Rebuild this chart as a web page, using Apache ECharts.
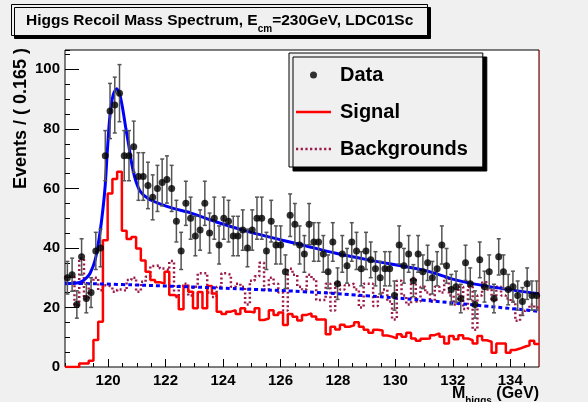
<!DOCTYPE html>
<html>
<head>
<meta charset="utf-8">
<title>Higgs Recoil Mass Spectrum</title>
<script src="https://cdn.jsdelivr.net/npm/echarts@6.0.0/dist/echarts.min.js"></script>
<style>
    html, body { margin: 0; padding: 0; background: #f0f0f0; }
    #main { width: 588px; height: 402px; }
</style>
</head>
<body>
<div id="main"></div>
<script type="text/javascript">
    // binning: 100 bins of 0.165 GeV from 118.5 to 135
    var xMin = 118.5;
    var xMax = 135;
    var binWidth = 0.165;

    // data counts per bin
    var dataCounts = [
        30, 31, 21, 37, 23, 25, 39, 40, 71, 86, 88, 92, 71, 71, 74, 64, 64, 61, 57, 60, 62, 63, 60, 49, 39,
        55, 50, 44, 46, 55, 45, 50, 41, 50, 49, 44, 44, 46, 40, 46, 50, 50, 39, 49, 41, 41, 32, 51, 48, 41, 38,
        48, 42, 42, 38, 32, 42, 28, 38, 34, 42, 39, 33, 39, 36, 33, 30, 33, 33, 24, 41, 34, 38, 29, 38, 32,
        35, 30, 33, 41, 34, 26, 27, 23, 35, 28, 21, 36, 27, 32, 23, 37, 32, 26, 27, 24, 22, 28, 24, 24
    ];

    // signal histogram
    var signalHist = [
        0, 0, 0, 1.2, 1.2, 2.1, 9.1, 15.2, 42.6, 58.3, 63.2, 65.6, 45.8, 43, 43.7, 39.8, 35.8, 32, 29.2, 28.5, 28, 32, 24.2, 23.7, 19.4,
        27.2, 25.3, 19.7, 25.2, 19.7, 27.2, 24.7, 18.6, 17.8, 18.6, 19.1, 17.8, 19.7, 18.6, 18.3, 19.7, 15.8, 16.3, 19.1, 17.5, 18.3, 14.1, 17.8, 16.9, 15.6, 17.5,
        18, 17, 16, 16, 11, 13.5, 12.6, 14.2, 13.5, 14, 15, 13.5, 12.5, 11.5, 12.5, 12.3, 10.6, 10.2, 9.6, 11, 10.2, 11.5, 9.6, 8.8, 9.5,
        9.6, 10.7, 11.3, 10.2, 7.9, 10.4, 9.3, 10.7, 9.6, 9, 7.9, 10.4, 9, 8.5, 4.8, 7.9, 7.9, 4.8, 5.7, 6.2, 6.8, 7.3, 8.8, 7.7
    ];

    // background histogram
    var bkgHist = [
        30.3, 30.3, 20.8, 36.5, 22.9, 28.6, 30, 25.8, 27.5, 26.9, 25.3, 26, 25.6, 29.2, 30, 25.3, 28.6, 30.3, 33.9, 34.2, 33.1, 32.5, 35.6, 23.5, 27.3,
        28, 24, 27, 31.5, 31.5, 25, 23.5, 27, 31.5, 31, 27, 28, 27, 21, 29, 30.5, 35, 26, 30, 28, 25, 19, 33, 31, 27, 26,
        31, 29.5, 22.5, 22.5, 28, 19, 28.5, 26, 27.5, 28, 26, 20, 28, 28, 20.5, 24, 26, 22, 16, 29, 24, 21, 30, 22, 27,
        25, 22, 27, 25, 30, 24, 21, 27, 19.5, 27, 12.5, 24, 28.5, 26, 22, 27, 24, 23, 22, 15.5, 18, 19, 21, 20
    ];

    // total fit curve
    var fitX = [118.5, 119.0, 119.2, 119.37, 119.55, 119.7, 119.82, 119.9, 119.97, 120.07, 120.18, 120.3, 120.42, 120.53,
                120.62, 120.71, 120.83, 120.95, 121.12, 121.4, 121.8, 122.3, 122.86, 123.74, 124.91, 126.07, 126.8,
                127.93, 129.1, 131.0, 132.12, 133.28, 135.0];
    var fitY = [28.0, 28.4, 29.5, 31.4, 36, 44, 53, 61, 72, 85, 91.5, 93.5, 91, 85.5,
                80, 75, 68, 63, 59, 56.5, 54.8, 53.2, 51.8, 48.8, 45.4, 42.6, 40.9,
                38.2, 35.9, 32.5, 29.2, 27, 24.6];

    // background fit curve
    var bkgFitX = [118.5, 120.5, 122.6, 124.7, 126.8, 129.0, 131.0, 133.0, 135.0];
    var bkgFitY = [28.2, 27.7, 27.0, 26.2, 25.3, 23.9, 22.4, 20.6, 18.7];

    var xTicks = [120, 122, 124, 126, 128, 130, 132, 134];

    var FONT = '"Liberation Sans", Arial, Helvetica, sans-serif';

    // legend icons: plain line and dotted line
    var ICON_LINE = 'path://M0,0H35V2.6H0Z';
    var ICON_DOTS = 'path://M0,0h2.2v2.6h-2.2z M4.6,0h2.2v2.6h-2.2z M9.2,0h2.2v2.6h-2.2z M13.8,0h2.2v2.6h-2.2z ' +
                    'M18.4,0h2.2v2.6h-2.2z M23,0h2.2v2.6h-2.2z M27.6,0h2.2v2.6h-2.2z M32.2,0h2.2v2.6h-2.2z';

    // build series data
    var points = [], errors = [];
    dataCounts.forEach(function (n, i) {
        var x = xMin + (i + 0.5) * binWidth;
        points.push([x, n]);
        errors.push([x, n, Math.sqrt(n)]);   // poisson errors
    });
    function histLine(vals) {
        var out = vals.map(function (v, i) { return [xMin + i * binWidth, v]; });
        out.push([xMax, vals[vals.length - 1]]);
        return out;
    }
    function zip(xs, ys) { return xs.map(function (x, i) { return [x, ys[i]]; }); }

    var myChart = echarts.init(document.getElementById('main'), null, {renderer: 'canvas'});

    var option = {
        animation: false,
        backgroundColor: '#f0f0f0',
        title: {
            text: '{t|Higgs Recoil Mass Spectrum, E}{s|cm}{t|=230GeV, LDC01Sc}',
            left: 11,
            top: 9,
            padding: [3, 14, 1, 15],
            backgroundColor: '#f0f0f0',
            borderColor: '#000',
            borderWidth: 1,
            shadowColor: '#000',
            shadowOffsetX: 3,
            shadowOffsetY: 3,
            shadowBlur: 0,
            textStyle: {
                rich: {
                    t: {fontSize: 15.5, fontWeight: 'bold', fontFamily: FONT, color: '#000', lineHeight: 18},
                    s: {fontSize: 10, fontWeight: 'bold', fontFamily: FONT, color: '#000', lineHeight: 10, padding: [17, 0, 0, 0]}
                }
            }
        },
        legend: {
            data: [
                {name: 'Data', icon: 'circle'},
                {name: 'Signal', icon: ICON_LINE},
                {name: 'Backgrounds', icon: ICON_DOTS}
            ],
            orient: 'vertical',
            left: 289,
            top: 53,
            itemWidth: 35,
            itemHeight: 7,
            itemGap: 17,
            padding: [12, 15, 8, 7],
            selectedMode: false,
            backgroundColor: '#f0f0f0',
            borderColor: '#000',
            borderWidth: 1,
            shadowColor: '#000',
            shadowOffsetX: 4,
            shadowOffsetY: 4,
            shadowBlur: 0,
            textStyle: {fontSize: 20, fontWeight: 'bold', fontFamily: FONT, color: '#000', padding: [0, 0, 0, 4]}
        },
        grid: {
            left: 65, right: 49, top: 50, bottom: 35,
            show: true,
            backgroundColor: '#fff',
            borderColor: '#000',
            borderWidth: 1
        },
        xAxis: [{
            type: 'value', min: xMin, max: xMax, position: 'bottom',
            axisLine: {show: false}, splitLine: {show: false},
            axisTick: {inside: true, length: 8, customValues: xTicks, lineStyle: {color: '#000'}},
            axisLabel: {customValues: xTicks, margin: 6, color: '#000', fontSize: 15, fontWeight: 'bold', fontFamily: FONT}
        }, {
            type: 'value', min: xMin, max: xMax, interval: 0.5, position: 'bottom',
            axisLine: {show: false}, splitLine: {show: false},
            axisTick: {inside: true, length: 4, lineStyle: {color: '#000'}},
            axisLabel: {show: false}
        }],
        yAxis: [{
            type: 'value', min: 0, max: 106.5, interval: 20, position: 'left',
            axisLine: {show: false}, splitLine: {show: false},
            axisTick: {inside: true, length: 14, lineStyle: {color: '#000'}},
            axisLabel: {showMaxLabel: false, margin: 5, color: '#000', fontSize: 15, fontWeight: 'bold', fontFamily: FONT}
        }, {
            type: 'value', min: 0, max: 106.5, interval: 5, position: 'left',
            axisLine: {show: false}, splitLine: {show: false},
            axisTick: {inside: true, length: 5, lineStyle: {color: '#000'}},
            axisLabel: {show: false}
        }],
        graphic: [{
            type: 'text', x: 21, y: 48, rotation: Math.PI / 2,
            style: {text: 'Events / ( 0.165 )', font: 'bold 18px ' + FONT, fill: '#000', align: 'right', verticalAlign: 'middle'}
        }, {
            type: 'text', x: 539, y: 403,
            style: {
                text: '{m|M}{s|higgs}{m| (GeV)}', align: 'right', verticalAlign: 'bottom',
                rich: {
                    m: {fontSize: 16, fontWeight: 'bold', fontFamily: FONT, fill: '#000', lineHeight: 18},
                    s: {fontSize: 10, fontWeight: 'bold', fontFamily: FONT, fill: '#000', lineHeight: 10, padding: [14, 0, 0, 0]}
                }
            }
        }],
        series: [{
            name: 'Backgrounds',
            type: 'line',
            step: 'end',
            symbol: 'none',
            z: 2,
            color: '#9c1a4a',
            lineStyle: {color: '#9c1a4a', width: 2.5, type: [2, 2.5]},
            data: histLine(bkgHist)
        }, {
            name: 'Signal',
            type: 'line',
            step: 'end',
            symbol: 'none',
            z: 2,
            color: '#ff0000',
            lineStyle: {color: '#ff0000', width: 2.5},
            data: histLine(signalHist),
            markLine: {
                silent: true, symbol: 'none', label: {show: false},
                lineStyle: {color: '#d04040', width: 1, type: 'solid'},
                data: [{xAxis: xMax}]
            }
        }, {
            name: 'BkgFit',
            type: 'line',
            symbol: 'none',
            smooth: true,
            z: 3,
            lineStyle: {color: '#0000ff', width: 3, type: [4, 3]},
            data: zip(bkgFitX, bkgFitY)
        }, {
            name: 'Fit',
            type: 'line',
            symbol: 'none',
            smooth: 0.3,
            z: 3,
            lineStyle: {color: '#0000ff', width: 3},
            data: zip(fitX, fitY)
        }, {
            name: 'Errors',
            type: 'custom',
            z: 4,
            renderItem: function (params, api) {
                var x = api.value(0), y = api.value(1), e = api.value(2);
                var lo = api.coord([x, y - e]);
                var hi = api.coord([x, y + e]);
                var c = 2;
                var st = {stroke: '#555', lineWidth: 1.5};
                return {
                    type: 'group',
                    children: [
                        {type: 'line', shape: {x1: lo[0], y1: lo[1], x2: hi[0], y2: hi[1]}, style: st},
                        {type: 'line', shape: {x1: lo[0] - c, y1: lo[1], x2: lo[0] + c, y2: lo[1]}, style: st},
                        {type: 'line', shape: {x1: hi[0] - c, y1: hi[1], x2: hi[0] + c, y2: hi[1]}, style: st}
                    ]
                };
            },
            encode: {x: 0, y: 1},
            data: errors
        }, {
            name: 'Data',
            type: 'scatter',
            symbol: 'circle',
            symbolSize: 7,
            z: 5,
            color: '#000',
            itemStyle: {color: '#000'},
            data: points
        }]
    };
    myChart.setOption(option);
</script>
</body>
</html>
